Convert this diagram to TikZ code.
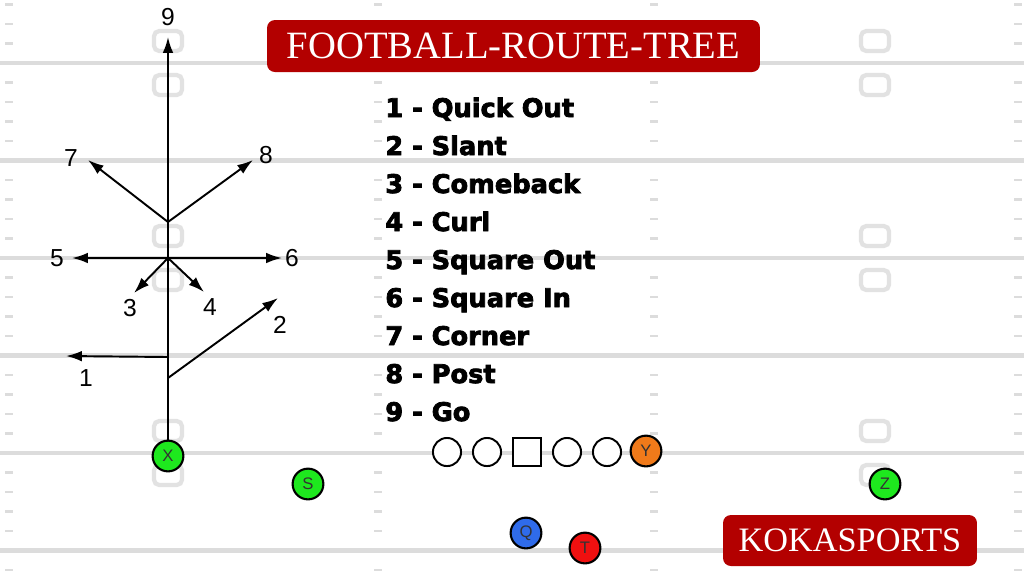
\documentclass[tikz,border=0pt]{standalone}
\usepackage{fontspec}
\setmainfont{Liberation Serif}
\newfontfamily\labelfont{Liberation Sans}
\newfontfamily\listfont[FakeBold=3]{DejaVu Sans Bold}
\usetikzlibrary{arrows.meta}

\definecolor{bannerred}{HTML}{B30000}
\definecolor{fieldgray}{HTML}{DCDCDC}
\definecolor{markgray}{HTML}{E2E2E2}
\definecolor{xgreen}{HTML}{1EE81E}
\definecolor{yorange}{HTML}{F07A1A}
\definecolor{qblue}{HTML}{2F6BEA}
\definecolor{tred}{HTML}{F01010}

\tikzset{
  yardline/.style={draw=fieldgray,line width=2.8pt},
  hashmark/.style={draw=fieldgray,line width=1.6pt},
  yardbox/.style={draw=markgray,line width=2.4pt,rounded corners=3pt},
  route/.style={draw,line width=1.1pt,-{Latex[length=9pt,width=6pt]}},
  routelabel/.style={font=\labelfont\fontsize{14}{14}\selectfont,inner sep=0pt},
  player/.style={draw,circle,line width=1.2pt,minimum size=17.5pt,inner sep=0pt,
    font=\labelfont\fontsize{9.5}{9.5}\selectfont,text=black!80},
  lineman/.style={draw,line width=1.1pt,minimum size=16pt,inner sep=0pt},
  banner/.style={fill=bannerred,text=white,rounded corners=4.5pt,inner sep=0pt},
  listitem/.style={font=\listfont\fontsize{14.6}{14.6}\selectfont,anchor=base west,inner sep=0pt}
}

\begin{document}
\begin{tikzpicture}[x=0.02cm,y=-0.02cm]
      \useasboundingbox[fill=white] (0,0) rectangle (1024,576);

      \foreach \k in {-3,...,26} {
        \foreach \hx in {5,374,650,1014} {
          \draw[hashmark] (\hx,63+19.5*\k) -- ++(8,0);
        }
      }
      \foreach \ly in {63,160.5,258,355.5,453,550.5} {
        \draw[yardline] (0,\ly) -- (1024,\ly);
      }
      \foreach \bx in {168,875} {
        \foreach \by in {41,85,236,280,431,475} {
          \draw[yardbox] (\bx-14,\by-10) rectangle (\bx+14,\by+10);
        }
      }

      \def \Routes {
        1/168/357/66/356/86/378,
        2/168/378/278/298/280/325,
        3/168/258/134/293/130/308,
        4/168/258/204/292/210/307,
        5/168/258/72/258/57/258,
        6/168/258/282/258/292/258,
        7/168/222/88/160/71/158,
        8/168/222/253/160/266/155,
        9/168/456/168/37/168/17}

      \foreach \id / \bx / \by / \tx / \ty / \lx / \ly in \Routes {
        \coordinate (from\id) at (\bx,\by);
        \coordinate (tip\id) at (\tx,\ty);
        \node[routelabel] (lab\id) at (\lx,\ly) {\id};
        \path[route] (from\id) -- (tip\id);
      }

      \def \Players {
        X/168/456/xgreen,
        S/308/484/xgreen,
        Z/885/484/xgreen,
        Y/646/451/yorange,
        Q/526/533/qblue,
        T/585/548/tred}

      \foreach \id / \x / \y / \c in \Players {
        \node[player,fill=\c] (\id) at (\x,\y) {\id};
      }
      \foreach \id / \x in {ol1/447,ol2/487,ol4/567,ol5/607} {
        \node[lineman,circle,fill=white] (\id) at (\x,452) {};
      }
      \node[lineman,fill=white] (C) at (527,452) {};

      \foreach \n / \name in {1/Quick Out,2/Slant,3/Comeback,4/Curl,5/Square Out,
                             6/Square In,7/Corner,8/Post,9/Go} {
        \node[listitem] (item\n) at (385,79+38*\n) {\n\ - \name};
      }

      \node[banner,minimum width=9.86cm,minimum height=1.04cm,
            font=\fontsize{22}{22}\selectfont] (title) at (513.5,46) {FOOTBALL-ROUTE-TREE};
      \node[banner,minimum width=5.08cm,minimum height=1.02cm,
            font=\fontsize{19.5}{19.5}\selectfont] (brand) at (850,540.5) {KOKASPORTS};
\end{tikzpicture}
\end{document}
